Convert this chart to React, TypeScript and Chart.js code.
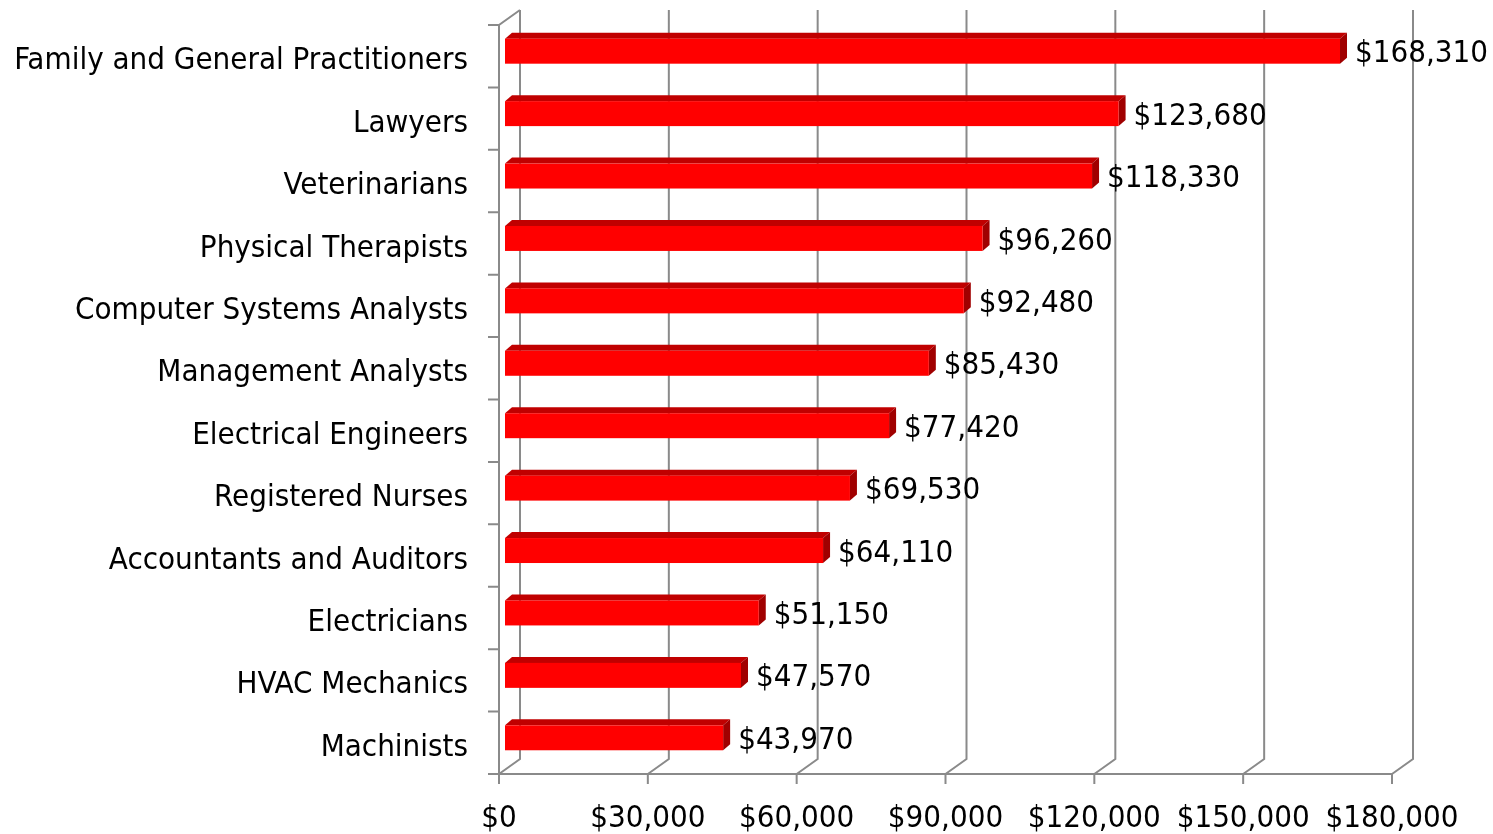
import React, { useEffect, useRef } from 'react';
import { Chart, registerables } from 'chart.js';

Chart.register(...registerables);

const categories = [
  'Family and General Practitioners',
  'Lawyers',
  'Veterinarians',
  'Physical Therapists',
  'Computer Systems Analysts',
  'Management Analysts',
  'Electrical Engineers',
  'Registered Nurses',
  'Accountants and Auditors',
  'Electricians',
  'HVAC Mechanics',
  'Machinists',
];
const salaries = [168310, 123680, 118330, 96260, 92480, 85430, 77420, 69530, 64110, 51150, 47570, 43970];
const xTickValues = [0, 30000, 60000, 90000, 120000, 150000, 180000];

const FONT_FAMILY = 'Tahoma, "DejaVu Sans Condensed", "DejaVu Sans", sans-serif';
const FONT_SIZE = 31;
const GRID = '#8a8a8a';
const DEPTH_X = 21;
const DEPTH_Y = -15;

const fmt = (v: number) => '$' + Math.round(v).toLocaleString('en-US');

const threeD = {
  id: 'threeD',
  beforeDatasetsDraw(chart: any) {
    const { ctx, chartArea } = chart;
    const xs = chart.scales.x;
    const { left, top, bottom } = chartArea;
    ctx.save();
    ctx.strokeStyle = GRID;
    ctx.lineWidth = 2;
    ctx.lineCap = 'butt';
    ctx.beginPath();
    xTickValues.forEach((v) => {
      const px = xs.getPixelForValue(v);
      ctx.moveTo(px, bottom);
      ctx.lineTo(px + DEPTH_X, bottom + DEPTH_Y);
      ctx.lineTo(px + DEPTH_X, top + DEPTH_Y);
      ctx.moveTo(px, bottom);
      ctx.lineTo(px, bottom + 10);
    });
    ctx.moveTo(left, bottom);
    ctx.lineTo(xs.getPixelForValue(xTickValues[xTickValues.length - 1]), bottom);
    ctx.moveTo(left, bottom);
    ctx.lineTo(left, top);
    ctx.lineTo(left + DEPTH_X, top + DEPTH_Y);
    const n = categories.length;
    const band = (bottom - top) / n;
    for (let i = 0; i <= n; i++) {
      const y = top + i * band;
      ctx.moveTo(left - 11, y);
      ctx.lineTo(left, y);
    }
    ctx.stroke();
    ctx.restore();
  },
  afterDatasetsDraw(chart: any) {
    const { ctx } = chart;
    const meta = chart.getDatasetMeta(0);
    const fx = 6, fy = -5;
    const dx = 7, dy = -6;
    ctx.save();
    meta.data.forEach((bar: any, i: number) => {
      const { x, y, base, height } = bar.getProps(['x', 'y', 'base', 'height'], true);
      const x0 = base + fx;
      const x1 = x + fx;
      const yT = y - height / 2 + fy;
      const yB = y + height / 2 + fy;
      ctx.fillStyle = '#c00000';
      ctx.beginPath();
      ctx.moveTo(x0, yT);
      ctx.lineTo(x1, yT);
      ctx.lineTo(x1 + dx, yT + dy);
      ctx.lineTo(x0 + dx, yT + dy);
      ctx.closePath();
      ctx.fill();
      ctx.fillStyle = '#a00000';
      ctx.beginPath();
      ctx.moveTo(x1, yT);
      ctx.lineTo(x1 + dx, yT + dy);
      ctx.lineTo(x1 + dx, yB + dy);
      ctx.lineTo(x1, yB);
      ctx.closePath();
      ctx.fill();
      ctx.fillStyle = '#ff0000';
      ctx.fillRect(x0, yT, x1 - x0, yB - yT);
      ctx.fillStyle = '#000';
      ctx.font = `${FONT_SIZE}px ${FONT_FAMILY}`;
      ctx.textAlign = 'left';
      ctx.textBaseline = 'middle';
      ctx.fillText(fmt(salaries[i]), x1 + dx + 8, (yT + yB) / 2 + 3);
    });
    ctx.restore();
  },
};

export default function App() {
  const ref = useRef<HTMLCanvasElement | null>(null);
  useEffect(() => {
    if (!ref.current) return;
    const chart = new Chart(ref.current, {
      type: 'bar',
      data: {
        labels: categories,
        datasets: [
          {
            data: salaries,
            backgroundColor: 'rgba(0,0,0,0)',
            borderWidth: 0,
            barPercentage: 0.4,
            categoryPercentage: 1,
          },
        ],
      },
      options: {
        indexAxis: 'y',
        animation: false,
        responsive: false,
        maintainAspectRatio: false,
        layout: { padding: { top: 25, right: 101, left: 0, bottom: 0 } },
        plugins: { legend: { display: false }, tooltip: { enabled: false } },
        scales: {
          x: {
            min: 0,
            max: 180000,
            grid: { display: false },
            border: { display: false },
            afterBuildTicks: (s: any) => {
              s.ticks = xTickValues.map((v) => ({ value: v }));
            },
            afterFit: (s: any) => {
              s.height = 60;
              s.paddingLeft = 0;
              s.paddingRight = 0;
            },
            ticks: {
              callback: (v: any) => fmt(Number(v)),
              font: { family: FONT_FAMILY, size: FONT_SIZE },
              color: '#000',
              padding: 18,
              maxRotation: 0,
              autoSkip: false,
            },
          },
          y: {
            grid: { display: false },
            border: { display: false },
            afterFit: (s: any) => {
              s.width = 499;
              s.paddingTop = 0;
              s.paddingBottom = 0;
            },
            ticks: {
              font: { family: FONT_FAMILY, size: FONT_SIZE },
              color: '#000',
              padding: 23,
              labelOffset: 5,
              autoSkip: false,
            },
          },
        },
      },
      plugins: [threeD],
    });
    return () => chart.destroy();
  }, []);
  return (
    <div style={{ position: 'absolute', left: 0, top: 0, width: 1493, height: 834, background: '#fff' }}>
      <canvas ref={ref} width={1493} height={834} />
    </div>
  );
}
